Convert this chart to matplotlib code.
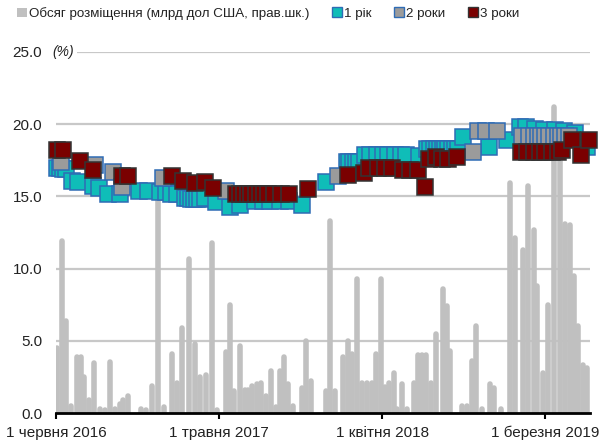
import matplotlib
matplotlib.use("Agg")
import matplotlib.pyplot as plt
import matplotlib.dates as mdates
import matplotlib.transforms as mtransforms
from matplotlib.lines import Line2D
from matplotlib.patches import Patch
import numpy as np

plt.rcParams['font.family'] = ['Liberation Sans', 'DejaVu Sans']

# --- Data -----------------------------------------------------------------
bar_dates = ["2016-06-03", "2016-06-13", "2016-06-21", "2016-07-01", "2016-07-14", "2016-07-22",
             "2016-07-29", "2016-08-07", "2016-08-17", "2016-08-30", "2016-09-09", "2016-09-20",
             "2016-09-30", "2016-10-10", "2016-10-16", "2016-10-27", "2016-11-22", "2016-12-03",
             "2016-12-15", "2016-12-27", "2017-01-08", "2017-01-25", "2017-02-04", "2017-02-14",
             "2017-03-01", "2017-03-13", "2017-03-23", "2017-04-05", "2017-04-17", "2017-04-27",
             "2017-05-16", "2017-05-24", "2017-06-01", "2017-06-13", "2017-06-24", "2017-06-30",
             "2017-07-08", "2017-07-18", "2017-07-26", "2017-08-06", "2017-08-16", "2017-08-26",
             "2017-09-03", "2017-09-11", "2017-09-20", "2017-09-30", "2017-10-18", "2017-10-27",
             "2017-11-06", "2017-12-07", "2017-12-15", "2017-12-25", "2018-01-10", "2018-01-21",
             "2018-01-29", "2018-02-08", "2018-02-18", "2018-03-01", "2018-03-11", "2018-03-19",
             "2018-03-29", "2018-04-07", "2018-04-15", "2018-04-25", "2018-05-01", "2018-05-11",
             "2018-05-22", "2018-06-05", "2018-06-13", "2018-06-21", "2018-06-30", "2018-07-10",
             "2018-07-20", "2018-08-04", "2018-08-12", "2018-08-18", "2018-09-11", "2018-09-22",
             "2018-10-02", "2018-10-10", "2018-10-22", "2018-11-08", "2018-11-16", "2018-11-30",
             "2018-12-19", "2018-12-29", "2019-01-15", "2019-01-25", "2019-02-06", "2019-02-12",
             "2019-02-25", "2019-03-07", "2019-03-19", "2019-03-31", "2019-04-11", "2019-04-21",
             "2019-04-29", "2019-05-07", "2019-05-18", "2019-05-26"]
bar_values = [4.5, 11.9, 6.4, 0.5, 3.9, 3.85,
              2.5, 0.9, 3.45, 0.3, 0.2, 3.5,
              0.3, 0.6, 0.9, 1.2, 0.3, 0.2,
              1.9, 16.5, 0.4, 4.1, 2.1, 5.9,
              10.7, 4.8, 2.5, 2.6, 11.8, 0.2,
              4.2, 7.5, 1.5, 4.65, 1.6, 1.6,
              1.9, 2.0, 2.1, 1.2, 2.9, 0.4,
              2.9, 3.9, 2.0, 0.5, 1.7, 5.0,
              2.2, 1.5, 13.3, 1.5, 3.9, 5.0,
              4.1, 9.3, 2.1, 2.1, 2.1, 4.1,
              9.3, 1.8, 2.1, 2.8, 0.3, 2.0,
              0.3, 2.1, 4.0, 4.0, 4.0, 2.1,
              5.5, 8.6, 7.4, 4.3, 0.5, 0.5,
              3.6, 6.0, 0.3, 2.0, 1.7, 0.3,
              15.9, 12.1, 11.3, 15.7, 12.7, 8.8,
              2.75, 7.5, 21.2, 17.5, 13.1, 13.0,
              9.5, 6.0, 3.3, 3.1]

y1_dates = ["2016-06-03", "2016-06-09", "2016-06-15", "2016-06-21", "2016-07-03", "2016-07-16",
            "2016-08-16", "2016-08-29", "2016-09-15", "2016-10-10", "2016-11-18", "2016-12-07",
            "2016-12-31", "2017-01-12", "2017-01-22", "2017-02-04", "2017-02-20", "2017-02-26",
            "2017-03-04", "2017-03-11", "2017-03-17", "2017-03-23", "2017-04-02", "2017-04-25",
            "2017-05-23", "2017-06-13", "2017-07-14", "2017-07-30", "2017-08-15", "2017-09-03",
            "2017-09-23", "2017-10-18", "2017-12-06", "2018-01-18", "2018-01-24", "2018-01-31",
            "2018-02-06", "2018-02-12", "2018-02-24", "2018-03-08", "2018-03-21", "2018-04-02",
            "2018-04-14", "2018-04-27", "2018-05-09", "2018-05-21", "2018-06-15", "2018-07-03",
            "2018-07-09", "2018-07-16", "2018-07-22", "2018-07-28", "2018-08-03", "2018-08-09",
            "2018-08-15", "2018-08-22", "2018-08-28", "2018-09-03", "2018-09-15", "2018-11-07",
            "2018-12-14", "2019-01-08", "2019-01-22", "2019-02-08", "2019-02-28", "2019-03-21",
            "2019-04-10", "2019-05-01", "2019-05-21", "2019-05-27"]
y1_values = [17.0, 17.0, 16.9, 16.9, 16.1, 16.0,
             15.7, 15.6, 15.2, 15.15, 15.4, 15.4,
             15.3, 15.3, 15.2, 15.2, 14.9, 14.9,
             14.8, 14.8, 14.8, 14.8, 14.9, 14.6,
             14.3, 14.4, 14.7, 14.7, 14.7, 14.7,
             14.7, 14.4, 16.0, 17.4, 17.4, 17.4,
             17.4, 17.4, 17.85, 17.85, 17.85, 17.85,
             17.85, 17.85, 17.85, 17.9, 17.8, 18.3,
             18.3, 18.3, 18.3, 18.3, 18.3, 18.3,
             18.3, 18.3, 18.3, 18.3, 19.1, 18.4,
             18.9, 19.8, 19.8, 19.7, 19.6, 19.6,
             19.5, 19.4, 18.6, 18.4]

y2_dates = ["2016-06-12", "2016-08-20", "2016-09-25", "2016-10-14", "2017-01-06", "2017-05-15",
            "2017-12-31", "2018-10-04", "2018-10-14", "2018-11-01", "2018-11-22", "2019-01-14",
            "2019-01-28", "2019-02-06", "2019-02-14", "2019-02-22", "2019-03-02", "2019-03-10",
            "2019-03-19", "2019-03-27", "2019-04-04", "2019-04-12", "2019-04-20"]
y2_values = [17.4, 17.2, 16.7, 15.65, 16.3, 15.4,
             16.4, 18.1, 19.5, 19.5, 19.5, 19.2,
             19.2, 19.2, 19.2, 19.2, 19.2, 19.2,
             19.2, 19.2, 19.2, 19.2, 19.2]

y3_dates = ["2016-06-03", "2016-06-15", "2016-07-20", "2016-08-16", "2016-10-14", "2016-10-26",
            "2017-01-24", "2017-02-16", "2017-03-13", "2017-04-02", "2017-04-19", "2017-06-05",
            "2017-06-13", "2017-06-21", "2017-06-29", "2017-07-07", "2017-07-16", "2017-07-24",
            "2017-08-01", "2017-08-09", "2017-08-22", "2017-09-05", "2017-09-23", "2017-11-01",
            "2018-01-22", "2018-02-22", "2018-03-06", "2018-03-23", "2018-04-06", "2018-04-21",
            "2018-05-13", "2018-05-29", "2018-06-13", "2018-06-27", "2018-07-07", "2018-07-20",
            "2018-08-01", "2018-08-15", "2018-09-01", "2019-01-12", "2019-01-24", "2019-02-06",
            "2019-02-18", "2019-03-02", "2019-03-15", "2019-03-27", "2019-04-06", "2019-04-25",
            "2019-05-15", "2019-05-31"]
y3_values = [18.2, 18.2, 17.45, 16.8, 16.4, 16.4,
             16.4, 16.05, 15.9, 16.0, 15.6, 15.2,
             15.2, 15.2, 15.2, 15.2, 15.2, 15.2,
             15.2, 15.2, 15.2, 15.2, 15.2, 15.5,
             16.5, 16.6, 17.0, 17.0, 17.0, 17.0,
             16.8, 16.8, 16.8, 15.65, 17.6, 17.7,
             17.6, 17.6, 17.7, 18.1, 18.1, 18.1,
             18.1, 18.1, 18.1, 18.1, 18.2, 18.9,
             17.9, 18.9]

tick_dates = ["2016-06-01", "2017-05-01", "2018-04-01", "2019-03-01"]
tick_labels = ["1 червня 2016", "1 травня 2017", "1 квітня 2018", "1 березня 2019"]
y_ticks = [0, 5, 10, 15, 20, 25]

legend_labels = ["Обсяг розміщення (млрд дол США, прав.шк.)", "1 рік", "2 роки", "3 роки"]

# --- Style ----------------------------------------------------------------
BAR = "#C0C0C0"
GRID = "#C8C8C8"
TEAL = "#0FBDB8"
GRAY = "#9B9B9B"
BLUE_EDGE = "#2F6CB5"
RED = "#7A0000"
RED_EDGE = "#333333"
TXT = "#222222"

def d(lst):
    return mdates.date2num(np.array(lst, dtype="datetime64[D]"))

fig = plt.figure(figsize=(6.03, 4.47), dpi=100)
ax = fig.add_axes([0.0929, 0.076, 0.978 - 0.0929, 0.8837 - 0.076])
ax2 = ax.twinx()
ax2.set_zorder(0)
ax.set_zorder(1)
ax.patch.set_visible(False)

xmin, xmax = d(["2016-06-01", "2019-06-01"])
for a in (ax, ax2):
    a.set_xlim(xmin, xmax)
    a.set_ylim(0, 25)

# bars (right scale, hidden)
ax2.vlines(d(bar_dates), 0, bar_values, colors=BAR, linewidth=4.0,
           capstyle='round', zorder=2)
ax2.set_yticks(y_ticks[1:])
ax2.yaxis.grid(True, color=GRID, linewidth=1.6, zorder=0)
ax2.set_axisbelow(True)
ax2.tick_params(axis='y', right=False, labelright=False)
for s in ax2.spines.values():
    s.set_visible(False)

ms = 12.2
mew = 1.1
ax.plot(d(y1_dates), y1_values, ls='none', marker='s', ms=ms, mfc=TEAL, mec=BLUE_EDGE,
        mew=mew, zorder=3, clip_on=False)
ax.plot(d(y2_dates), y2_values, ls='none', marker='s', ms=ms, mfc=GRAY, mec=BLUE_EDGE,
        mew=mew, zorder=4, clip_on=False)
ax.plot(d(y3_dates), y3_values, ls='none', marker='s', ms=ms, mfc=RED, mec=RED_EDGE,
        mew=mew, zorder=5, clip_on=False)

# axes formatting
ax.set_yticks(y_ticks)
ax.set_yticklabels([f"{v:.1f}" for v in y_ticks], fontsize=11, color=TXT)
ax.tick_params(axis='y', length=0, pad=10)
ax.set_xticks(d(tick_dates))
ax.set_xticklabels(tick_labels, fontsize=11, color=TXT)
ax.tick_params(axis='x', length=4, width=1.5, direction='out', color='black', pad=5)
for k in ('left', 'right', 'top'):
    ax.spines[k].set_visible(False)
ax.spines['bottom'].set_linewidth(2)
ax.spines['bottom'].set_color('black')

trans = mtransforms.blended_transform_factory(ax.transAxes, ax.transData)
ax.text(-0.006, 25, "(%)", transform=trans, ha='left', va='center', fontsize=10,
        style='italic', color=TXT,
        bbox=dict(facecolor='white', edgecolor='none', pad=1.5), zorder=6)

handles = [Patch(facecolor=BAR, edgecolor='none'),
           Line2D([], [], ls='none', marker='s', ms=7, mfc=TEAL, mec=BLUE_EDGE, mew=1),
           Line2D([], [], ls='none', marker='s', ms=7, mfc=GRAY, mec=BLUE_EDGE, mew=1),
           Line2D([], [], ls='none', marker='s', ms=7, mfc=RED, mec=RED_EDGE, mew=1)]
leg = fig.legend(handles, legend_labels, loc='upper center', bbox_to_anchor=(0.445, 1.005),
                 ncol=4, frameon=False, fontsize=9.6, handlelength=0.7, handleheight=0.7,
                 handletextpad=0.15, columnspacing=1.75, borderaxespad=0.3)
for t in leg.get_texts():
    t.set_color(TXT)

fig.savefig("out.png", dpi=100)
